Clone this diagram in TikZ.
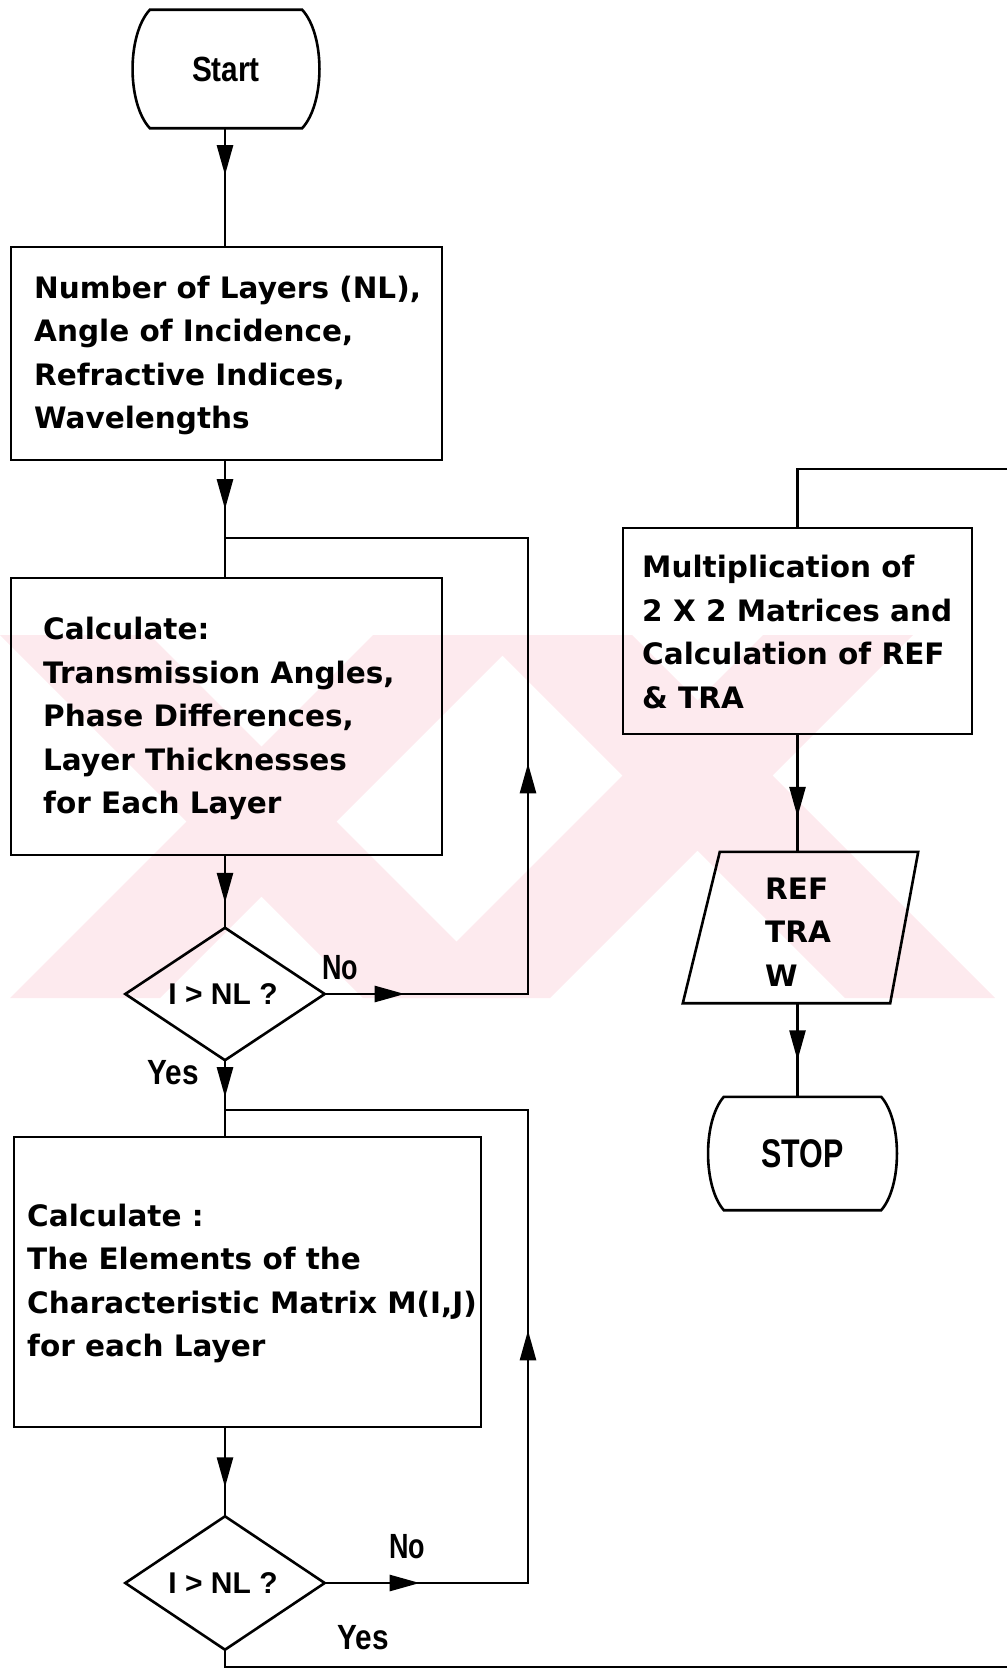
\documentclass[tikz,border=0pt]{standalone}
\usepackage{fontspec}
\usepackage{graphicx}
\setmainfont{DejaVu Sans}
\newfontfamily\hv{Liberation Sans}
\usetikzlibrary{arrows.meta,decorations.markings,calc}
\definecolor{wm}{RGB}{253,234,238}
\tikzset{
  ln/.style={line width=2.6pt, line join=miter},
  boxs/.style={draw, line width=2.8pt, inner sep=0pt},
  txt/.style={anchor=west, align=left, inner sep=0pt, font=\bfseries\fontsize{29.5}{43.5}\selectfont},
  lab/.style={inner sep=0pt, font=\hv\bfseries\fontsize{35}{40}\selectfont},
  dtxt/.style={inner sep=0pt, font=\hv\bfseries\fontsize{30}{34}\selectfont},
  ghost/.style={inner sep=0pt},
  tip/.style={postaction={decorate}, decoration={markings, mark=at position #1 with {\arrow{Triangle[length=30pt,width=16pt]}}}},
  tiptwo/.style 2 args={postaction={decorate}, decoration={markings,
     mark=at position #1 with {\arrow{Triangle[length=30pt,width=16pt]}},
     mark=at position #2 with {\arrow{Triangle[length=30pt,width=16pt]}}}},
}
\begin{document}
\begin{tikzpicture}[x=1pt,y=-1pt]
\useasboundingbox (0,0) rectangle (1007,1670);
% watermark
\begin{scope}
\clip (0,635) rectangle (1007,998);
\fill[wm] (0,635) -- (150,635) -- (513,998) -- (363,998) -- cycle;
\fill[wm] (373,635) -- (523,635) -- (160,998) -- (10,998) -- cycle;
\fill[wm] (482,635) -- (632,635) -- (995,998) -- (845,998) -- cycle;
\fill[wm] (763,635) -- (913,635) -- (550,998) -- (400,998) -- cycle;
\end{scope}

% Start terminal
\node[ghost, minimum width=188pt, minimum height=118pt] (start) at (226,69)
  {\hv\bfseries\fontsize{35}{40}\selectfont\scalebox{0.85}[1]{Start}};
\draw[ln] ($(start.north west)+(18,0)$) -- ($(start.north east)+(-18,0)$)
  .. controls ($(start.north east)+(5,25)$) and ($(start.south east)+(5,-25)$) .. ($(start.south east)+(-18,0)$)
  -- ($(start.south west)+(18,0)$)
  .. controls ($(start.south west)+(-5,-25)$) and ($(start.north west)+(-5,25)$) .. cycle;

% Box 1
\node[boxs, minimum width=431pt, minimum height=213pt] (b1) at (226.5,353.5) {};
\node[txt] (t1) at (34,355.5) {Number of Layers (NL),\\Angle of Incidence,\\Refractive Indices,\\Wavelengths};

% Box 2
\node[boxs, minimum width=431pt, minimum height=277pt] (b2) at (226.5,716.5) {};
\node[txt] (t2) at (43,718.5) {Calculate:\\Transmission Angles,\\Phase Differences,\\Layer Thicknesses\\for Each Layer};

% Decision 1
\node[ghost, minimum width=199pt, minimum height=132pt] (d1) at (225,994) {};
\node[dtxt] (d1t) at (223,994) {I > NL ?};
\draw[ln] (d1.north) -- (d1.east) -- (d1.south) -- (d1.west) -- cycle;

% Box 3
\node[boxs, minimum width=467pt, minimum height=290pt] (b3) at (247.5,1282) {};
\node[txt] (t3) at (27,1283.5) {Calculate :\\The Elements of the\\Characteristic Matrix M(I,J)\\for each Layer};

% Decision 2
\node[ghost, minimum width=199pt, minimum height=133pt] (d2) at (225,1583) {};
\node[dtxt] (d2t) at (223,1583) {I > NL ?};
\draw[ln] (d2.north) -- (d2.east) -- (d2.south) -- (d2.west) -- cycle;

% Box 4
\node[boxs, minimum width=349pt, minimum height=206pt] (b4) at (797.5,631) {};
\node[txt] (t4) at (642,632) {Multiplication of\\2 X 2 Matrices and\\Calculation of REF\\\& TRA};

% Output parallelogram
\node[ghost, minimum width=235pt, minimum height=151pt] (out) at (797.5,927.5) {};
\draw[ln] ($(out.north west)+(40,0)$) -- ($(out.north east)+(3,0)$) -- ($(out.south east)+(-25,0)$) -- ($(out.south west)+(3,0)$) -- cycle;
\node[txt] (tout) at (765,932) {REF\\TRA\\W};

% STOP terminal
\node[ghost, minimum width=189pt, minimum height=113pt] (stop) at (802.5,1153.5)
  {\hv\bfseries\fontsize{40}{44}\selectfont\scalebox{0.76}[1]{STOP}};
\draw[ln] ($(stop.north west)+(16,0)$) -- ($(stop.north east)+(-16,0)$)
  .. controls ($(stop.north east)+(5,24)$) and ($(stop.south east)+(5,-24)$) .. ($(stop.south east)+(-16,0)$)
  -- ($(stop.south west)+(16,0)$)
  .. controls ($(stop.south west)+(-5,-24)$) and ($(stop.north west)+(-5,24)$) .. cycle;

% labels
\node[lab] (no1) at (340,968) {\scalebox{0.77}[1]{No}};
\node[lab] (yes1) at (173,1073) {\scalebox{0.85}[1]{Yes}};
\node[lab] (no2) at (407,1547) {\scalebox{0.77}[1]{No}};
\node[lab] (yes2) at (363,1638) {\scalebox{0.85}[1]{Yes}};

% coordinates
\coordinate (j1) at (225,538);
\coordinate (k1) at (528,538);
\coordinate (j2) at (225,1110);
\coordinate (k2) at (528,1110);
\coordinate (e1) at (1007,1667);
\coordinate (e2) at (1007,469);

% connectors
\draw[ln, tip=0.4] (start.south -| d1.north) -- (d1.north |- b1.north);
\draw[ln, tip=0.415] (d1.north |- b1.south) -- (d1.north |- b2.north);
\draw[ln, tip=0.65] (d1.north |- b2.south) -- (d1.north);
\draw[ln, tiptwo={80pt}{434pt}] (d1.east) -| (k1) -- (j1);
\draw[ln, tip=0.49] (d1.south) -- (d1.south |- b3.north);
\draw[ln, tip=0.67] (d2.north |- b3.south) -- (d2.north);
\draw[ln, tiptwo={95pt}{456pt}] (d2.east) -| (k2) -- (j2);
\draw[ln] (d2.south) |- (e1);
\draw[ln] (e2) -| (b4.north);
\draw[ln, tip=0.7] (b4.south) -- (b4.south |- out.north);
\draw[ln, tip=0.61] (out.south) -- (out.south |- stop.north);
\end{tikzpicture}
\end{document}
